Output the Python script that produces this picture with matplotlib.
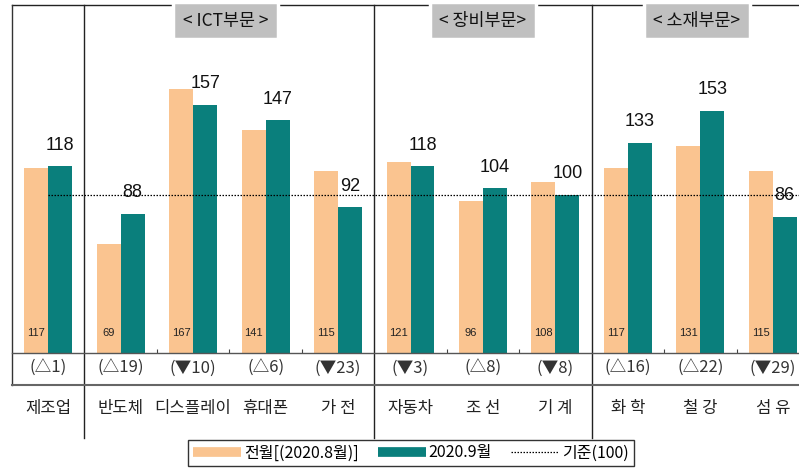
import matplotlib
matplotlib.use("Agg")
import matplotlib.pyplot as plt
from matplotlib.lines import Line2D
import numpy as np

plt.rcParams['font.family'] = ['Noto Sans CJK KR', 'DejaVu Sans']

categories = ['제조업', '반도체', '디스플레이', '휴대폰', '가 전', '자동차', '조 선', '기 계', '화 학', '철 강', '섬 유']
prev_vals = [117, 69, 167, 141, 115, 121, 96, 108, 117, 131, 115]
curr_vals = [118, 88, 157, 147, 92, 118, 104, 100, 133, 153, 86]
changes = ['(△1)', '(△19)', '(▼10)', '(△6)', '(▼23)', '(▼3)', '(△8)', '(▼8)', '(△16)', '(△22)', '(▼29)']
groups = ['< ICT부문 >', '< 장비부문>', '< 소재부문>']
group_pos = [2.45, 6.0, 8.95]
separators = [0.5, 4.5, 7.5]
baseline = 100
legend_labels = ['전월[(2020.8월)]', '2020.9월', '기준(100)']

c_prev = '#FAC490'
c_curr = '#0A7F7C'
narrow = ['Liberation Sans Narrow', 'Liberation Sans', 'DejaVu Sans']

fig = plt.figure(figsize=(7.99, 4.70), dpi=100)
ax = fig.add_axes([12/799, 1-353/470, 797/799, 348/470])
ax.set_xlim(-0.5, 10.5)
ax.set_ylim(0, 220)

x = np.arange(len(categories))
w = 0.33
ax.bar(x - w/2, prev_vals, w, color=c_prev, zorder=2)
ax.bar(x + w/2, curr_vals, w, color=c_curr, zorder=2)

ax.plot([0, 10.5], [baseline, baseline], color='black', linestyle=(0, (1.2, 1.2)), lw=0.9, zorder=3, clip_on=False)

for xi, pv, cv, ch, cat in zip(x, prev_vals, curr_vals, changes, categories):
    ax.text(xi + w/2, cv + 8, str(cv), ha='center', va='bottom', fontsize=13,
            family=narrow, color='#111111', zorder=4)
    ax.text(xi - w/2, 12.5, str(pv), ha='center', va='center', fontsize=8,
            family=narrow, color='#222222', zorder=4)
    ax.text(xi, -10, ch, ha='center', va='center', fontsize=12, color='#333333', clip_on=False)
    ax.text(xi, -35, cat, ha='center', va='center', fontsize=12, color='#222222', clip_on=False)

for s in ax.spines.values():
    s.set_visible(False)
ax.set_yticks([])
ax.set_xticks([1.5, 2.5, 3.5, 5.5, 6.5, 8.5, 9.5])
ax.set_xticklabels([])
ax.tick_params(axis='x', direction='in', length=3, color='#444444', width=0.8)

# frame lines
ax.plot([-0.5, 10.5], [0, 0], color='#555555', lw=1.0, clip_on=False, zorder=5)
ax.plot([-0.5, 10.5], [220, 220], color='#222222', lw=1.0, clip_on=False, zorder=1)
ax.plot([-0.5, -0.5], [-20.2, 220], color='#333333', lw=1.0, clip_on=False)
ax.plot([-0.5, 10.5], [-20.2, -20.2], color='#666666', lw=1.5, clip_on=False)
for s in separators:
    ax.plot([s, s], [-53.7, 220], color='#222222', lw=1.0, clip_on=False, zorder=1)

for g, gp in zip(groups, group_pos):
    ax.text(gp, 210.0, g, ha='center', va='center', fontsize=12.5, color='#111111', zorder=6,
            bbox=dict(boxstyle='square,pad=0.55', facecolor='#C0C0C0', edgecolor='white', lw=2.5),
            clip_on=False)

handles = [Line2D([], [], color=c_prev, lw=7, solid_capstyle='butt'),
           Line2D([], [], color=c_curr, lw=7, solid_capstyle='butt'),
           Line2D([], [], color='black', lw=0.9, linestyle=(0, (1.2, 1.2)))]
leg = fig.legend(handles, legend_labels, loc='center', bbox_to_anchor=(411/799, 1-453/470),
                 ncol=3, fontsize=11.5, frameon=True, fancybox=False, edgecolor='black',
                 handlelength=3.0, handletextpad=0.2, columnspacing=1.2, borderpad=0.3)
leg.get_frame().set_linewidth(1.0)

fig.savefig('out.png', dpi=100)
